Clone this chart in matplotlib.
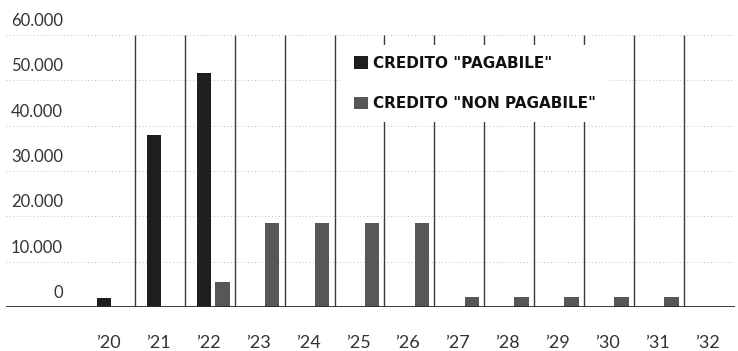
import matplotlib

matplotlib.use("Agg")

import matplotlib.pyplot as plt  # noqa: E402
from matplotlib.patches import Patch  # noqa: E402

# dati
anni = ["’20", "’21", "’22", "’23", "’24", "’25", "’26",
        "’27", "’28", "’29", "’30", "’31", "’32"]
pagabile = [2000, 38000, 51600, 0, 0, 0, 0, 0, 0, 0, 0, 0, 0]
non_pagabile = [0, 0, 5500, 18500, 18500, 18500, 18500,
                2300, 2300, 2300, 2300, 2300, 0]
y_ticks = [0, 10000, 20000, 30000, 40000, 50000, 60000]
y_labels = ["0", "10.000", "20.000", "30.000", "40.000", "50.000", "60.000"]

plt.rcParams["font.family"] = ["Lato", "DejaVu Sans"]

W, H = 738, 351
fig = plt.figure(figsize=(W / 100, H / 100), dpi=100)

# axes in pixel: x 6..735, y (dall'alto) 35..307
ax = fig.add_axes([6 / W, (H - 307) / H, (735 - 6) / W, (307 - 35) / H])
ax.set_xlim((6 - 110) / 49.9, (735 - 110) / 49.9)
ax.set_ylim(0, 60000)
ax.axis("off")

x = list(range(len(anni)))

# griglia orizzontale puntinata
for v in y_ticks[1:]:
    ax.axhline(v, color="#c0c0c0", lw=0.7, ls=(0, (1, 2.5)), zorder=1)

# separatori verticali fra gli anni
ax.vlines([i + 0.5 for i in x[:-1]], 0, 60000, color="#3a3a3a", lw=1.0, zorder=2)

w = 0.29
ax.bar([i - 0.12 for i in x], pagabile, width=w, color="#1e1e1e", zorder=3)
ax.bar([i + 0.25 for i in x], non_pagabile, width=w, color="#575757", zorder=3)

ax.axhline(0, color="#2a2a2a", lw=1.3, zorder=4)

# etichette asse y sopra le linee
x_lab = (63 - 110) / 49.9
for v, lab in zip(y_ticks, y_labels):
    ax.text(x_lab, v + 2000, lab, ha="right", va="baseline",
            fontsize=12, color="#333333", clip_on=False)

# etichette anni
for i, lab in zip(x, anni):
    ax.text(i - 0.03, -8000, lab, ha="center", va="center",
            fontsize=13, color="#333333", clip_on=False)

handles = [Patch(facecolor="#1e1e1e", edgecolor="none"),
           Patch(facecolor="#575757", edgecolor="none")]
leg = ax.legend(handles, ['CREDITO "PAGABILE"', 'CREDITO "NON PAGABILE"'],
                loc="upper left", bbox_to_anchor=(343 / W, 1 - 45 / H),
                bbox_transform=fig.transFigure, frameon=True, fancybox=False,
                facecolor="white", edgecolor="none", framealpha=1,
                handlelength=0.92, handleheight=0.92, handletextpad=0.3,
                labelspacing=1.65, borderpad=0.72, borderaxespad=0,
                prop={"family": "DejaVu Sans", "weight": "bold", "size": 11})
for t in leg.get_texts():
    t.set_color("#111111")
leg.set_zorder(6)

fig.savefig("out.png", dpi=100)
